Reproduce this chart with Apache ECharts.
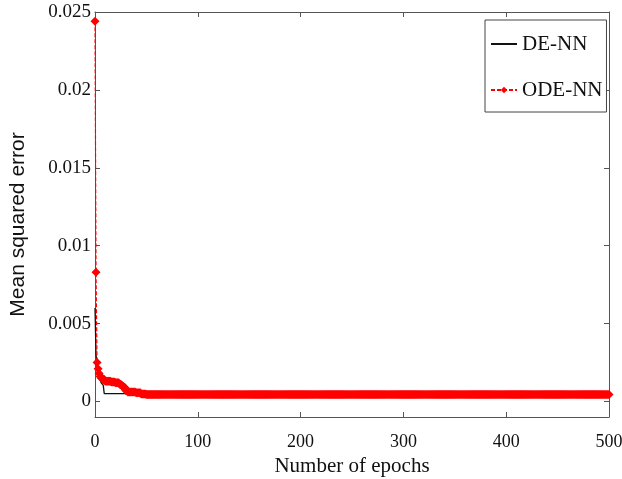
<!DOCTYPE html>
<html>
<head>
<meta charset="utf-8">
<script src="https://cdn.jsdelivr.net/npm/echarts@6/dist/echarts.min.js"></script>
<style>
html,body{margin:0;padding:0;background:#fff;}
#chart{width:622px;height:479px;}
</style>
</head>
<body>
<div id="chart"></div>
<script>
// ---- data ----
const seriesNames = ['DE-NN', 'ODE-NN'];
// key epochs where the MSE changes; value is held until the next key epoch
const deKeyEpochs = [0, 1, 2, 3, 4, 5, 6, 7, 8, 9, 30, 40];
const deKeyValues = [0.0060, 0.0030, 0.0024, 0.0019, 0.0016, 0.0014, 0.0012, 0.0011, 0.00105, 0.0005, 0.00048, 0.00045];
const odeKeyEpochs = [0, 1, 2, 3, 4, 5, 6, 8, 10, 16, 20, 24, 26, 28, 30, 32, 40, 45, 50];
const odeKeyValues = [0.0244, 0.0083, 0.0025, 0.0021, 0.0018, 0.0016, 0.0015, 0.0014, 0.0013, 0.00125, 0.0012, 0.0011, 0.0010, 0.0009, 0.0007, 0.0006, 0.00055, 0.00048, 0.00045];
const lastEpoch = 500;
const xTicks = [0, 100, 200, 300, 400, 500];
const yTicks = [0, 0.005, 0.01, 0.015, 0.02, 0.025];

// expand key points into per-epoch values (hold the last read value)
function holdSeries(keys, vals) {
  const out = [];
  let k = 0;
  for (let e = 0; e <= lastEpoch; e++) {
    while (k + 1 < keys.length && keys[k + 1] <= e) k++;
    out.push([e, vals[k]]);
  }
  return out;
}
const deData = holdSeries(deKeyEpochs, deKeyValues);
const odeData = holdSeries(odeKeyEpochs, odeKeyValues);

const axisColor = '#555';
const serif = '"Liberation Serif", "Times New Roman", serif';
const sans = '"Liberation Sans", Arial, sans-serif';

function yFmt(v) {
  for (const t of yTicks) if (Math.abs(v - t) < 1e-9) return String(+t.toFixed(3));
  return '';
}

const lineAx = {show: true, onZero: false, lineStyle: {color: axisColor, width: 1}};
const tickAx = {show: true, inside: true, length: 5, lineStyle: {color: axisColor}};

const chart = echarts.init(document.getElementById('chart'), null, {renderer: 'canvas'});
chart.setOption({
  animation: false,
  backgroundColor: '#fff',
  grid: {left: 95, right: 13, top: 12, bottom: 62, containLabel: false, outerBoundsMode: 'none'},
  legend: {
    orient: 'vertical',
    left: 485,
    top: 20,
    padding: [13, 4, 11, 5],
    itemGap: 24,
    itemWidth: 26,
    itemHeight: 8,
    borderColor: '#444',
    borderWidth: 1,
    backgroundColor: '#fff',
    textStyle: {fontFamily: serif, fontSize: 21, color: '#111', lineHeight: 22},
    data: [
      {name: seriesNames[0], itemStyle: {opacity: 0}},
      {name: seriesNames[1]}
    ]
  },
  xAxis: [{
    type: 'value', min: 0, max: lastEpoch, interval: 100, position: 'bottom',
    name: 'Number of epochs', nameLocation: 'middle', nameGap: 34,
    nameTextStyle: {fontFamily: serif, fontSize: 21, color: '#111'},
    axisLine: lineAx, axisTick: tickAx,
    axisLabel: {fontFamily: serif, fontSize: 18, color: '#111', margin: 16,
      formatter: v => xTicks.indexOf(v) >= 0 ? String(v) : ''},
    splitLine: {show: false}
  }, {
    type: 'value', min: 0, max: lastEpoch, interval: 100, position: 'top',
    axisLine: lineAx, axisTick: tickAx,
    axisLabel: {show: false}, splitLine: {show: false}
  }],
  yAxis: [{
    type: 'value', min: -0.001, max: 0.025, splitNumber: 5, minInterval: 0.005, maxInterval: 0.005,
    position: 'left',
    name: 'Mean squared error', nameLocation: 'middle', nameGap: 66,
    nameTextStyle: {fontFamily: sans, fontSize: 21, color: '#111', padding: [0, 20, 0, 0]},
    axisLine: lineAx, axisTick: tickAx,
    axisLabel: {fontFamily: serif, fontSize: 19, color: '#111', margin: 4, padding: [6, 0, 0, 0], formatter: yFmt},
    splitLine: {show: false}
  }, {
    type: 'value', min: -0.001, max: 0.025, splitNumber: 5, minInterval: 0.005, maxInterval: 0.005,
    position: 'right',
    axisLine: lineAx, axisTick: tickAx,
    axisLabel: {show: false}, splitLine: {show: false}
  }],
  series: [{
    name: seriesNames[0], type: 'line', xAxisIndex: 0, yAxisIndex: 0,
    data: deData, symbol: 'none', showSymbol: false,
    lineStyle: {color: '#111', width: 1.3},
    itemStyle: {color: '#111'},
    z: 2
  }, {
    name: seriesNames[1], type: 'line', xAxisIndex: 0, yAxisIndex: 0,
    data: odeData, symbol: 'diamond', symbolSize: 9, showSymbol: true, showAllSymbol: true,
    lineStyle: {color: '#ff0000', width: 1.2, type: [4, 2]},
    itemStyle: {color: '#ff0000'},
    z: 3
  }]
});
</script>
</body>
</html>
